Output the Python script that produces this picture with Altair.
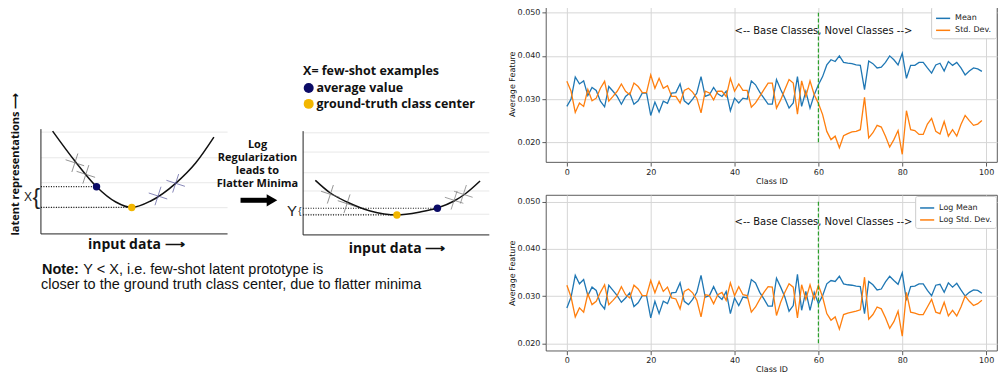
import altair as alt
import pandas as pd

# ---------------- line-chart data ----------------
class_id = list(range(100))

mean_vals = [0.0283, 0.0300, 0.0351, 0.0335, 0.0342, 0.0308, 0.0327, 0.0320, 0.0295, 0.0282,
             0.0329, 0.0318, 0.0306, 0.0288, 0.0306, 0.0314, 0.0288, 0.0296, 0.0314, 0.0314,
             0.0262, 0.0293, 0.0270, 0.0295, 0.0290, 0.0314, 0.0315, 0.0335, 0.0296, 0.0288,
             0.0300, 0.0314, 0.0352, 0.0306, 0.0310, 0.0327, 0.0312, 0.0306, 0.0318, 0.0273,
             0.0302, 0.0291, 0.0302, 0.0300, 0.0342, 0.0333, 0.0316, 0.0302, 0.0288, 0.0288,
             0.0345, 0.0322, 0.0302, 0.0279, 0.0291, 0.0352, 0.0283, 0.0318, 0.0279, 0.0310,
             0.0333, 0.0352, 0.0379, 0.0391, 0.0387, 0.0400, 0.0385, 0.0383, 0.0382, 0.0379,
             0.0378, 0.0322, 0.0388, 0.0382, 0.0372, 0.0374, 0.0385, 0.0400, 0.0391, 0.0379,
             0.0406, 0.0348, 0.0378, 0.0378, 0.0385, 0.0385, 0.0372, 0.0360, 0.0379, 0.0383,
             0.0365, 0.0387, 0.0378, 0.0385, 0.0372, 0.0356, 0.0365, 0.0372, 0.0370, 0.0364]

std_vals = [0.0341, 0.0318, 0.0269, 0.0291, 0.0283, 0.0322, 0.0296, 0.0302, 0.0325, 0.0341,
            0.0295, 0.0306, 0.0318, 0.0335, 0.0318, 0.0310, 0.0337, 0.0329, 0.0315, 0.0315,
            0.0356, 0.0325, 0.0348, 0.0325, 0.0331, 0.0306, 0.0306, 0.0291, 0.0320, 0.0325,
            0.0316, 0.0302, 0.0268, 0.0318, 0.0314, 0.0298, 0.0318, 0.0318, 0.0306, 0.0348,
            0.0318, 0.0335, 0.0320, 0.0320, 0.0281, 0.0291, 0.0306, 0.0322, 0.0337, 0.0337,
            0.0279, 0.0298, 0.0322, 0.0345, 0.0337, 0.0265, 0.0342, 0.0306, 0.0342, 0.0310,
            0.0290, 0.0264, 0.0225, 0.0206, 0.0214, 0.0187, 0.0215, 0.0220, 0.0224, 0.0225,
            0.0229, 0.0304, 0.0210, 0.0222, 0.0239, 0.0235, 0.0214, 0.0189, 0.0206, 0.0227,
            0.0172, 0.0273, 0.0229, 0.0227, 0.0218, 0.0218, 0.0242, 0.0255, 0.0225, 0.0219,
            0.0248, 0.0214, 0.0229, 0.0214, 0.0241, 0.0262, 0.0250, 0.0239, 0.0242, 0.0250]

log_mean_vals = [0.0275, 0.0298, 0.0344, 0.0326, 0.0335, 0.0301, 0.0319, 0.0312, 0.0284, 0.0273,
                 0.0323, 0.0312, 0.0301, 0.0287, 0.0296, 0.0307, 0.0278, 0.0286, 0.0301, 0.0301,
                 0.0254, 0.0289, 0.0263, 0.0289, 0.0284, 0.0307, 0.0308, 0.0328, 0.0289, 0.0282,
                 0.0293, 0.0308, 0.0344, 0.0298, 0.0301, 0.0320, 0.0301, 0.0293, 0.0310, 0.0263,
                 0.0296, 0.0280, 0.0298, 0.0296, 0.0335, 0.0328, 0.0308, 0.0294, 0.0279, 0.0279,
                 0.0338, 0.0319, 0.0298, 0.0268, 0.0280, 0.0346, 0.0270, 0.0310, 0.0270, 0.0308,
                 0.0284, 0.0301, 0.0326, 0.0333, 0.0331, 0.0342, 0.0326, 0.0324, 0.0323, 0.0321,
                 0.0320, 0.0263, 0.0331, 0.0324, 0.0313, 0.0315, 0.0330, 0.0342, 0.0333, 0.0325,
                 0.0349, 0.0291, 0.0320, 0.0321, 0.0326, 0.0326, 0.0312, 0.0301, 0.0323, 0.0325,
                 0.0308, 0.0328, 0.0319, 0.0327, 0.0313, 0.0300, 0.0308, 0.0313, 0.0312, 0.0306]

log_std_vals = [0.0323, 0.0298, 0.0256, 0.0275, 0.0266, 0.0305, 0.0282, 0.0289, 0.0308, 0.0324,
                0.0282, 0.0291, 0.0301, 0.0320, 0.0303, 0.0296, 0.0323, 0.0315, 0.0301, 0.0301,
                0.0333, 0.0307, 0.0331, 0.0310, 0.0319, 0.0296, 0.0294, 0.0273, 0.0310, 0.0315,
                0.0307, 0.0291, 0.0256, 0.0303, 0.0301, 0.0284, 0.0303, 0.0308, 0.0291, 0.0328,
                0.0301, 0.0320, 0.0303, 0.0301, 0.0266, 0.0277, 0.0293, 0.0308, 0.0320, 0.0319,
                0.0259, 0.0287, 0.0308, 0.0326, 0.0319, 0.0254, 0.0324, 0.0293, 0.0324, 0.0294,
                0.0323, 0.0298, 0.0263, 0.0249, 0.0256, 0.0230, 0.0261, 0.0264, 0.0266, 0.0268,
                0.0271, 0.0340, 0.0251, 0.0261, 0.0277, 0.0273, 0.0254, 0.0232, 0.0246, 0.0268,
                0.0215, 0.0308, 0.0266, 0.0264, 0.0261, 0.0261, 0.0277, 0.0293, 0.0266, 0.0263,
                0.0287, 0.0258, 0.0270, 0.0258, 0.0277, 0.0300, 0.0289, 0.0280, 0.0284, 0.0291]

top_series = ["Mean", "Std. Dev."]
bottom_series = ["Log Mean", "Log Std. Dev."]
x_ticks = [0, 20, 40, 60, 80, 100]
y_ticks = [0.020, 0.025, 0.030, 0.035, 0.040, 0.045, 0.050]
split_class = [60]
split_low = [0.02]
split_high = [0.05]
note_x = [40]
note_y = [0.045]
note_text = ["<-- Base Classes, Novel Classes -->"]

# ---------------- schematic (diagram units) ----------------
guide_x1 = [40, 40, 40, 40, 302.7, 302.7, 302.7, 302.7, 302.7]
guide_x2 = [227, 227, 227, 227, 489.3, 489.3, 489.3, 489.3, 489.3]
guide_y = [131, 156.7, 181.7, 206.7, 131.7, 151, 171.7, 190, 213.3]

axis_x1 = [40, 40, 302.7, 302.7]
axis_x2 = [40, 227, 302.7, 489.3]
axis_y1 = [128, 233, 130, 234]
axis_y2 = [233, 233, 234, 234]

dot_x1 = [40, 40, 302.7, 302.7]
dot_x2 = [95.7, 131, 437.3, 396.7]
dot_y = [185.7, 206.5, 207.3, 214]

curve_panel = ["sharp"] * 9 + ["flat"] * 10
curve_x = [51.7, 74, 95.7, 115, 131, 150, 175, 195, 213.3,
           315, 330, 346.7, 370, 396.7, 420, 437.3, 454, 465, 480]
curve_y = [130, 160, 185.7, 201, 206.5, 200, 182.3, 162, 136,
           179.3, 192, 201, 210, 214, 211, 207, 200, 193, 180]

cross_x = [74, 85, 157.3, 175, 330, 346.7, 454, 463.3]
cross_y = [161.7, 173.3, 195, 182.3, 193.3, 202.7, 199.3, 193.3]
cross_color = ["#666666", "#666666", "#55559a", "#55559a", "#666666", "#666666", "#777777", "#777777"]

dot_px = [95.7, 131, 437.3, 396.7, 308.3, 308.3]
dot_py = [185.7, 206.5, 207.3, 214, 86.7, 102.7]
dot_col = ["#0b0b66", "#f2b600", "#0b0b66", "#f2b600", "#0b0b66", "#f2b600"]
dot_sz = [55, 55, 55, 55, 100, 100]

bc_text = ["input data \u27f6", "input data \u27f6"]
bc_x = [135.5, 396.7]
bc_y = [244, 248.3]

mid_text = ["Log\nRegularization\nleads to\nFlatter Minima"]
mid_x = [257]
mid_top = [137.9]

bl_text = ["X= few-shot examples", "average value", "ground-truth class center"]
bl_x = [302.7, 316, 316]
bl_y = [70, 86.7, 102.7]

rot_text = ["latent representations \u27f6"]
rot_x = [15.5]
rot_y = [163]

note_bold = ["Note:"]
note_plain = ["Y < X, i.e. few-shot latent prototype is",
              "closer to the ground truth class center, due to flatter minima"]
nb_x = [41]
nb_y = [269.5]
np_x = [82.5, 40]
np_y = [269.5, 284]

lab_text = ["X", "{", "Y", "{"]
lab_x = [27, 35.5, 291.5, 299.5]
lab_y = [196.5, 196, 210.5, 210.5]
lab_size = [12, 23, 15, 10]

arrow_x1 = [240]
arrow_x2 = [268]
arrow_y = [199.3]
head_x = [271.5]

# ---------------- diagram ----------------
XS = alt.Scale(domain=[8, 498], nice=False, zero=False)
YS = alt.Scale(domain=[4, 304], nice=False, zero=False, reverse=True)


def dx(f="dx"):
    return alt.X(f"{f}:Q", scale=XS, axis=None)


def dy(f="dy"):
    return alt.Y(f"{f}:Q", scale=YS, axis=None)


guides = alt.Chart(pd.DataFrame({"dx": guide_x1, "dx2": guide_x2, "dy": guide_y})).mark_rule(
    color="#e8e8e8", strokeWidth=1).encode(x=dx(), x2="dx2:Q", y=dy())

axes_lines = alt.Chart(pd.DataFrame({"dx": axis_x1, "dx2": axis_x2, "dy": axis_y1, "dy2": axis_y2})).mark_rule(
    color="#222222", strokeWidth=1).encode(x=dx(), x2="dx2:Q", y=dy(), y2="dy2:Q")

dotted = alt.Chart(pd.DataFrame({"dx": dot_x1, "dx2": dot_x2, "dy": dot_y})).mark_rule(
    color="#111111", strokeWidth=1.2, strokeDash=[1, 1.5]).encode(x=dx(), x2="dx2:Q", y=dy())

curves = alt.Chart(pd.DataFrame({"panel": curve_panel, "dx": curve_x, "dy": curve_y,
                                 "o": list(range(len(curve_x)))})).mark_line(
    color="#111111", strokeWidth=1.5, interpolate="monotone").encode(
    x=dx(), y=dy(), detail="panel:N", order="o:Q")

crosses = alt.Chart(pd.DataFrame({"dx": cross_x, "dy": cross_y, "c": cross_color})).mark_point(
    shape="M-1,0L1,0M0,-1L0,1", filled=False, strokeWidth=0.9, size=380, angle=18).encode(
    x=dx(), y=dy(), stroke=alt.Stroke("c:N", scale=None))

dots = alt.Chart(pd.DataFrame({"dx": dot_px, "dy": dot_py, "c": dot_col, "s": dot_sz})).mark_circle(
    opacity=1).encode(x=dx(), y=dy(), color=alt.Color("c:N", scale=None),
                      size=alt.Size("s:Q", scale=None))

bold_center = alt.Chart(pd.DataFrame({"dx": bc_x, "dy": bc_y, "t": bc_text})).mark_text(
    font="Open Sans", fontWeight="bold", fontSize=14, align="center", baseline="middle",
    color="#111111").encode(x=dx(), y=dy(), text="t:N")

mid_block = alt.Chart(pd.DataFrame({"dx": mid_x, "dy": mid_top, "t": mid_text})).mark_text(
    font="Open Sans", fontWeight="bold", fontSize=11, align="center", baseline="top",
    lineBreak="\n", lineHeight=13, color="#111111").encode(x=dx(), y=dy(), text="t:N")

bold_left = alt.Chart(pd.DataFrame({"dx": bl_x, "dy": bl_y, "t": bl_text})).mark_text(
    font="Open Sans", fontWeight="bold", fontSize=12.5, align="left", baseline="middle",
    color="#111111").encode(x=dx(), y=dy(), text="t:N")

rotated = alt.Chart(pd.DataFrame({"dx": rot_x, "dy": rot_y, "t": rot_text})).mark_text(
    font="Open Sans", fontWeight="bold", fontSize=11, align="center", baseline="middle",
    angle=270, color="#111111").encode(x=dx(), y=dy(), text="t:N")

note_b = alt.Chart(pd.DataFrame({"dx": nb_x, "dy": nb_y, "t": note_bold})).mark_text(
    font="Liberation Sans", fontWeight="bold", fontSize=14.5, align="left", baseline="middle",
    color="#111111").encode(x=dx(), y=dy(), text="t:N")

note_p = alt.Chart(pd.DataFrame({"dx": np_x, "dy": np_y, "t": note_plain})).mark_text(
    font="Liberation Sans", fontSize=14.5, align="left", baseline="middle",
    color="#111111").encode(x=dx(), y=dy(), text="t:N")

labels = alt.Chart(pd.DataFrame({"dx": lab_x, "dy": lab_y, "t": lab_text, "s": lab_size})).mark_text(
    font="Liberation Sans", align="center", baseline="middle", color="#222222").encode(
    x=dx(), y=dy(), text="t:N", size=alt.Size("s:Q", scale=None))

arrow_shaft = alt.Chart(pd.DataFrame({"dx": arrow_x1, "dx2": arrow_x2, "dy": arrow_y})).mark_rule(
    color="#000000", strokeWidth=5).encode(x=dx(), x2="dx2:Q", y=dy())

arrow_head = alt.Chart(pd.DataFrame({"dx": head_x, "dy": arrow_y})).mark_point(
    shape="triangle-right", filled=True, color="#000000", size=150, opacity=1).encode(x=dx(), y=dy())

diagram = alt.layer(guides, axes_lines, dotted, curves, crosses, dots, bold_center, mid_block,
                    bold_left, rotated, note_b, note_p, labels, arrow_shaft, arrow_head).properties(
    width=490, height=300, view=alt.ViewBackground(stroke="transparent"))


# ---------------- line charts ----------------
def line_panel(a_vals, b_vals, names, ydom, h):
    df = pd.DataFrame({"cls": class_id + class_id,
                       "val": a_vals + b_vals,
                       "series": [names[0]] * len(a_vals) + [names[1]] * len(b_vals)})
    xenc = alt.X("cls:Q", scale=alt.Scale(domain=[-5.0, 102.6], nice=False, zero=False),
                 axis=alt.Axis(values=x_ticks, title="Class ID", labelOverlap=False))
    yenc = alt.Y("val:Q", scale=alt.Scale(domain=ydom, nice=False, zero=False),
                 axis=alt.Axis(values=y_ticks, format=".3f", title="Average Feature",
                               labelOverlap=False, labelFlush=False))
    lines = alt.Chart(df).mark_line(strokeWidth=1.3).encode(
        x=xenc, y=yenc,
        color=alt.Color("series:N", sort=names,
                        scale=alt.Scale(domain=names, range=["#1f77b4", "#ff7f0e"]),
                        legend=alt.Legend(title=None, orient="top-right", offset=1,
                                          symbolType="stroke", symbolStrokeWidth=1.5,
                                          symbolSize=200, labelFontSize=8, labelFont="DejaVu Sans",
                                          labelColor="#222222", padding=4, rowPadding=-2,
                                          fillColor="white", strokeColor="#cccccc",
                                          cornerRadius=2)))
    split = alt.Chart(pd.DataFrame({"cls": split_class, "lo": split_low, "hi": split_high})).mark_rule(
        color="#2ca02c", stroke="#2ca02c", strokeDash=[4, 2], strokeWidth=1.2, opacity=1).encode(
        x="cls:Q", y="lo:Q", y2="hi:Q")
    ann = alt.Chart(pd.DataFrame({"cls": note_x, "val": note_y, "t": note_text})).mark_text(
        align="left", baseline="alphabetic", font="DejaVu Sans", fontSize=10, color="#111111").encode(
        x="cls:Q", y="val:Q", text="t:N")
    return alt.layer(lines, split, ann).properties(width=452, height=h)


top = line_panel(mean_vals, std_vals, top_series, [0.0154, 0.0517], 157)
bottom = line_panel(log_mean_vals, log_std_vals, bottom_series, [0.01845, 0.0514], 156)

right = alt.vconcat(top, bottom, spacing=8).resolve_scale(x="independent", y="independent",
                                                          color="independent")

chart = alt.hconcat(diagram, right, spacing=8).resolve_scale(
    x="independent", y="independent", color="independent", size="independent",
    stroke="independent").properties(
    padding={"left": 0, "top": -4, "right": 0, "bottom": 0}
).configure_view(stroke="#333333", strokeWidth=0.8).configure_axis(
    domain=False, grid=True, gridColor="#d6d6d6", gridWidth=1,
    tickColor="#333333", tickSize=4, tickWidth=0.8,
    labelFont="DejaVu Sans", labelFontSize=8, labelColor="#222222", labelPadding=2,
    titleFont="DejaVu Sans", titleFontSize=8, titleFontWeight="normal", titleColor="#111111",
    titlePadding=1
)

chart.save("out.html", embed_options={"renderer": "svg", "actions": False})
